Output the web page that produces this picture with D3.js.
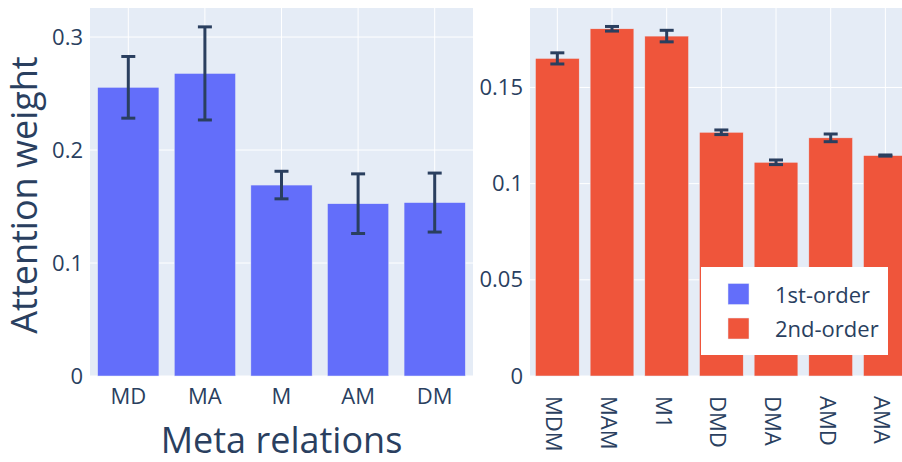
<!DOCTYPE html>
<html>
<head>
<meta charset="utf-8">
<script src="https://cdn.jsdelivr.net/npm/d3@7"></script>
<style>
  html, body { margin: 0; padding: 0; background: #fff; }
  svg { display: block; font-family: "Open Sans", "DejaVu Sans", sans-serif; }
</style>
</head>
<body>
<svg id="chart" width="902" height="462"></svg>
<script>
// First-order meta relations: mean attention weight and error
const firstCats = ["MD", "MA", "M", "AM", "DM"];
const firstVals = [0.2555, 0.2678, 0.1690, 0.1525, 0.1535];
const firstErr  = [0.0273, 0.0412, 0.0122, 0.0264, 0.0261];

// Second-order meta relations
const secondCats = ["MDM", "MAM", "M1", "DMD", "DMA", "AMD", "AMA"];
const secondVals = [0.1651, 0.1805, 0.1767, 0.1267, 0.1111, 0.1238, 0.1146];
const secondErr  = [0.0029, 0.0012, 0.0030, 0.0012, 0.0012, 0.0020, 0.0003];

const leftTicks  = [0, 0.1, 0.2, 0.3];
const rightTicks = [0, 0.05, 0.1, 0.15];
const legendNames = ["1st-order", "2nd-order"];

const BG = "#E5ECF6", TEXT = "#2a3f5f";
const COLORS = ["#636EFA", "#EF553B"];
const TICK_FONT = 22, TITLE_FONT = 36;

const svg = d3.select("#chart");
const plotTop = 8, plotBottom = 376;

function panel(cfg) {
  const x = d3.scaleBand().domain(cfg.cats).range([cfg.left, cfg.right])
    .paddingInner(0.2).paddingOuter(0.1);
  const y = d3.scaleLinear().domain([0, cfg.ymax]).range([plotBottom, plotTop]);

  const g = svg.append("g");
  g.append("rect").attr("x", cfg.left).attr("y", plotTop)
    .attr("width", cfg.right - cfg.left).attr("height", plotBottom - plotTop)
    .attr("fill", BG);

  // grid
  g.selectAll(".hg").data(cfg.ticks).join("line")
    .attr("x1", cfg.left).attr("x2", cfg.right)
    .attr("y1", d => y(d)).attr("y2", d => y(d))
    .attr("stroke", "#fff").attr("stroke-width", 1);
  g.selectAll(".vg").data(cfg.cats).join("line")
    .attr("x1", d => x(d) + x.bandwidth() / 2).attr("x2", d => x(d) + x.bandwidth() / 2)
    .attr("y1", plotTop).attr("y2", plotBottom)
    .attr("stroke", "#fff").attr("stroke-width", 1);

  // bars
  g.selectAll(".bar").data(cfg.cats).join("rect")
    .attr("x", d => x(d)).attr("width", x.bandwidth())
    .attr("y", (d, i) => y(cfg.vals[i]))
    .attr("height", (d, i) => plotBottom - y(cfg.vals[i]))
    .attr("fill", cfg.color).attr("stroke", BG).attr("stroke-width", 0.5);

  // error bars
  const eb = g.selectAll(".eb").data(cfg.cats).join("g")
    .attr("stroke", TEXT).attr("stroke-width", 3);
  eb.each(function(d, i) {
    const cx = x(d) + x.bandwidth() / 2;
    const hi = y(cfg.vals[i] + cfg.err[i]), lo = y(cfg.vals[i] - cfg.err[i]);
    const s = d3.select(this);
    s.append("line").attr("x1", cx).attr("x2", cx).attr("y1", hi).attr("y2", lo);
    s.append("line").attr("x1", cx - 7).attr("x2", cx + 7).attr("y1", hi).attr("y2", hi);
    s.append("line").attr("x1", cx - 7).attr("x2", cx + 7).attr("y1", lo).attr("y2", lo);
  });

  // y axis labels
  const yAxis = d3.axisLeft(y).tickValues(cfg.ticks).tickSize(0).tickPadding(7)
    .tickFormat(d => d === 0 ? "0" : String(+d.toFixed(2)));
  const ya = g.append("g").attr("transform", `translate(${cfg.left},0)`).call(yAxis);
  ya.select(".domain").remove();
  ya.selectAll("text").attr("fill", TEXT).attr("font-size", TICK_FONT)
    .attr("font-family", "Open Sans");

  // x axis labels
  const xAxis = d3.axisBottom(x).tickSize(0);
  const xa = g.append("g").attr("transform", `translate(0,${plotBottom})`).call(xAxis);
  xa.select(".domain").remove();
  xa.selectAll("text").attr("fill", TEXT).attr("font-size", TICK_FONT)
    .attr("font-family", "Open Sans");
  if (cfg.rotate) {
    xa.selectAll("text")
      .attr("text-anchor", "start")
      .attr("y", 0).attr("dy", "0.5em")
      .attr("transform", "translate(0,20) rotate(90)");
  } else {
    xa.selectAll("text").attr("y", 28).attr("dy", 0);
  }
  return { x, y };
}

panel({ cats: firstCats, vals: firstVals, err: firstErr, ticks: leftTicks,
        left: 90, right: 473, ymax: 0.3257, color: COLORS[0], rotate: false });
panel({ cats: secondCats, vals: secondVals, err: secondErr, ticks: rightTicks,
        left: 530, right: 912.7, ymax: 0.1913, color: COLORS[1], rotate: true });

// axis titles
svg.append("text")
  .attr("transform", "translate(37,195) rotate(-90)")
  .attr("text-anchor", "middle").attr("fill", TEXT)
  .attr("font-size", TITLE_FONT).text("Attention weight");
svg.append("text")
  .attr("x", 281.5).attr("y", 452.5)
  .attr("text-anchor", "middle").attr("fill", TEXT)
  .attr("font-size", TITLE_FONT).text("Meta relations");

// legend
const lg = svg.append("g");
lg.append("rect").attr("x", 701).attr("y", 267).attr("width", 187).attr("height", 88)
  .attr("fill", "#fff");
const items = lg.selectAll(".item").data(legendNames).join("g")
  .attr("transform", (d, i) => `translate(0,${i * 34.5})`);
items.append("rect").attr("x", 728).attr("y", 283.5).attr("width", 21).attr("height", 21)
  .attr("fill", (d, i) => COLORS[i]).attr("stroke", BG).attr("stroke-width", 0.5);
items.append("text").attr("x", 775).attr("y", 302.5)
  .attr("fill", TEXT).attr("font-size", TICK_FONT).text(d => d);
</script>
</body>
</html>
